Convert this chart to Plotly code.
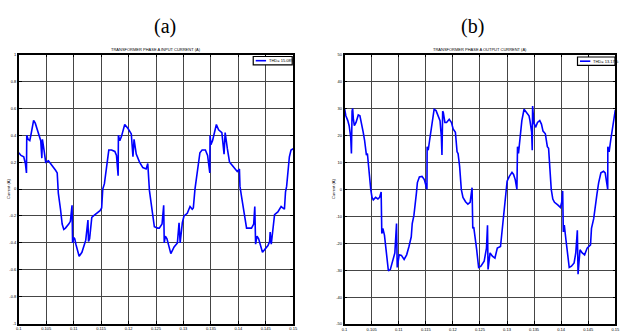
import plotly.graph_objects as go

W, H = 621, 332

# ---------------- data ----------------
t_a = [0.1000, 0.1004, 0.1009, 0.1012, 0.1014, 0.10145, 0.1017, 0.1020, 0.1022, 0.1027,
       0.1030, 0.1036, 0.1040, 0.1042, 0.1043, 0.1046, 0.1049, 0.1054, 0.1060, 0.1067,
       0.1070, 0.1071, 0.1072, 0.1076, 0.1079, 0.1082, 0.1085, 0.1091, 0.1094, 0.1097,
       0.1098, 0.1100, 0.1102, 0.1104, 0.1110, 0.1115, 0.1120, 0.1122, 0.1126, 0.1127,
       0.1129, 0.1133, 0.1136, 0.1144, 0.1148, 0.1151, 0.1153, 0.1156, 0.1160, 0.1164,
       0.1169, 0.1175, 0.1178, 0.1181, 0.11815, 0.1184, 0.1187, 0.1193, 0.1199, 0.1205,
       0.1208, 0.1210, 0.1214, 0.1220, 0.1226, 0.1232, 0.1235, 0.1237, 0.1238, 0.1241,
       0.1244, 0.1247, 0.1253, 0.1256, 0.1261, 0.1264, 0.1265, 0.1267, 0.1270, 0.1277,
       0.1283, 0.1289, 0.1292, 0.1294, 0.1298, 0.1301, 0.1307, 0.1312, 0.1316, 0.1318,
       0.1321, 0.1325, 0.1330, 0.1334, 0.1340, 0.1344, 0.1348, 0.13485, 0.1350, 0.1353,
       0.1358, 0.1360, 0.1364, 0.1370, 0.1374, 0.1376, 0.1380, 0.1384, 0.1388, 0.1394,
       0.1398, 0.1402, 0.1403, 0.1406, 0.1409, 0.1415, 0.1424, 0.1428, 0.1430, 0.14315,
       0.1434, 0.1437, 0.1444, 0.1450, 0.1454, 0.1457, 0.1458, 0.1460, 0.1463, 0.1466,
       0.1472, 0.1478, 0.1484, 0.1486, 0.1488, 0.1490, 0.1493, 0.1496, 0.1500]
i_a = [0.27, 0.25, 0.24, 0.19, 0.12, 0.40, 0.37, 0.36, 0.40, 0.51,
       0.49, 0.40, 0.36, 0.23, 0.37, 0.29, 0.20, 0.21, 0.18, 0.14,
       0.12, -0.02, -0.03, -0.15, -0.26, -0.30, -0.29, -0.26, -0.24, -0.12,
       -0.40, -0.36, -0.37, -0.41, -0.50, -0.47, -0.41, -0.38, -0.23, -0.39,
       -0.37, -0.21, -0.20, -0.17, -0.16, -0.14, 0.00, 0.04, 0.16, 0.29,
       0.29, 0.28, 0.25, 0.10, 0.40, 0.36, 0.39, 0.48, 0.45, 0.41,
       0.24, 0.37, 0.26, 0.20, 0.16, 0.15, 0.19, 0.00, -0.01, -0.10,
       -0.18, -0.28, -0.29, -0.29, -0.26, -0.12, -0.40, -0.35, -0.37, -0.48,
       -0.43, -0.40, -0.25, -0.40, -0.25, -0.20, -0.18, -0.13, -0.15, -0.14,
       0.00, 0.12, 0.27, 0.29, 0.29, 0.25, 0.12, 0.40, 0.33, 0.36,
       0.46, 0.48, 0.44, 0.42, 0.26, 0.42, 0.30, 0.20, 0.18, 0.15,
       0.13, 0.15, 0.02, -0.06, -0.15, -0.29, -0.29, -0.26, -0.13, -0.41,
       -0.35, -0.37, -0.47, -0.44, -0.42, -0.39, -0.32, -0.41, -0.28, -0.19,
       -0.17, -0.13, -0.15, -0.02, 0.02, 0.12, 0.24, 0.29, 0.30]

t_b = [0.1000, 0.10024, 0.1006, 0.10085, 0.10114, 0.10127, 0.10139, 0.1015, 0.10163, 0.10181,
       0.10212, 0.10254, 0.10284, 0.10313, 0.10344, 0.1037, 0.10404, 0.10422, 0.10447, 0.10484,
       0.10507, 0.10531, 0.10574, 0.10616, 0.10647, 0.10676, 0.10688, 0.10707, 0.10737, 0.10766,
       0.1081, 0.10846, 0.10888, 0.10929, 0.1096, 0.10973, 0.11009, 0.1105, 0.111, 0.11147,
       0.1119, 0.11232, 0.1125, 0.11281, 0.11328, 0.11345, 0.11382, 0.11431, 0.11473, 0.11509,
       0.11522, 0.11525, 0.11545, 0.11571, 0.11612, 0.11654, 0.1169, 0.11734, 0.11763, 0.11788,
       0.11799, 0.11812, 0.11824, 0.11853, 0.11884, 0.11933, 0.11975, 0.12005, 0.12047, 0.12078,
       0.12096, 0.12125, 0.12156, 0.12187, 0.12234, 0.12277, 0.12319, 0.12355, 0.12368, 0.12386,
       0.12415, 0.1244, 0.12476, 0.12518, 0.12578, 0.12621, 0.1264, 0.1265, 0.12687, 0.1273,
       0.12777, 0.12821, 0.1288, 0.12911, 0.1294, 0.12984, 0.13002, 0.13043, 0.13092, 0.13121,
       0.13152, 0.13183, 0.13194, 0.13212, 0.13243, 0.13274, 0.13315, 0.13364, 0.13406, 0.13424,
       0.13455, 0.13466, 0.13473, 0.13496, 0.13527, 0.13563, 0.13605, 0.13636, 0.13665, 0.13708,
       0.13745, 0.13768, 0.13786, 0.13817, 0.13846, 0.13877, 0.13937, 0.13986, 0.1401, 0.14028,
       0.1404, 0.14058, 0.14089, 0.14118, 0.14149, 0.1419, 0.14239, 0.1427, 0.14299, 0.14312,
       0.1433, 0.14348, 0.14389, 0.14433, 0.1448, 0.14542, 0.1456, 0.14601, 0.14661, 0.14692,
       0.14734, 0.14783, 0.14813, 0.14842, 0.1486, 0.14862, 0.14886, 0.14915, 0.14951, 0.14982,
       0.1500]
i_b = [30, 27.3, 25.5, 23.6, 19.4, 13.3, 29, 30, 26, 23.6,
       24.8, 27.6, 27.3, 24.8, 21.2, 18.2, 12.7, 13.3, 7.3, 0,
       -3, -3.9, -3, -3.6, -3, -1, -16.4, -14.5, -17, -21.8,
       -30.3, -29.7, -26.7, -23.6, -12.7, -29, -24.3, -24.5, -26, -24.3,
       -21.2, -17.6, -12.7, -9.7, -1.2, 2.5, 4.6, 4.8, 3.6, 1.2,
       0, 15.8, 14.5, 18.2, 24.8, 29.7, 29.2, 27.3, 25.5, 19.4,
       12.7, 29, 28.5, 24.8, 24.8, 26, 24.8, 22.4, 21.2, 13.9,
       13.3, 8.5, 0, -3, -4.6, -5.5, -4.8, 0.6, -14.5, -14,
       -17.6, -22.4, -29, -28.5, -26.7, -21.8, -13.3, -29.7, -23.6, -24.8,
       -25.5, -21.8, -21.2, -14.5, -9.7, -1.2, 3, 4.8, 6.3, 5.5,
       3.6, 0, 15.8, 13.3, 20.6, 25.5, 29.7, 28.5, 27.3, 25.5,
       21.2, 14.5, 30.9, 24.8, 23, 24.8, 25.5, 24.2, 21.6, 20.6,
       15.8, 15.2, 9.1, 0, -3.6, -4.8, -5.8, -6.7, -4.8, -0.6,
       -15.8, -13.3, -18.8, -23.6, -29, -28.5, -27.3, -23.6, -15.2, -31.5,
       -26.7, -22.4, -23.6, -24.3, -21.8, -20.6, -14.5, -10.9, -1.8, 2.4,
       6.1, 6.7, 6.1, 2.4, 0, 15.8, 13.9, 18.2, 23, 28.5,
       29.5]

x_tick_vals = [0.1, 0.105, 0.11, 0.115, 0.12, 0.125, 0.13, 0.135, 0.14, 0.145, 0.15]
x_tick_text = ["0.1", "0.105", "0.11", "0.115", "0.12", "0.125", "0.13", "0.135", "0.14", "0.145", "0.15"]
y_tick_vals_a = [1, 0.8, 0.6, 0.4, 0.2, 0, -0.2, -0.4, -0.6, -0.8, -1]
y_tick_text_a = ["1", "0.8", "0.6", "0.4", "0.2", "0", "-0.2", "-0.4", "-0.6", "-0.8", "-1"]
y_tick_vals_b = [50, 40, 30, 20, 10, 0, -10, -20, -30, -40, -50]
y_tick_text_b = ["50", "40", "30", "20", "10", "0", "-10", "-20", "-30", "-40", "-50"]

panel_labels = ["(a)", "(b)"]
panel_titles = ["TRANSFORMER PHASE A INPUT CURRENT (A)", "TRANSFORMER PHASE A OUTPUT CURRENT (A)"]
series_names = ["THD= 15.08%", "THD= 13.17%"]
y_title = "Current (A)"

# ---------------- layout helpers ----------------
def px(x):
    return x / W

def py(y):
    return 1 - y / H

LINE_BLUE = "#0000ff"
SANS = "Liberation Sans, Arial, sans-serif"
SERIF = "Liberation Serif, Times New Roman, serif"

panels = [
    dict(x0=16, x1=294, y0=52.5, y1=326.5, label_x=164, ytitle_x=5,
         leg=(253.5, 54.5, 293, 63)),
    dict(x0=346, x1=620.3, y0=52.5, y1=327, label_x=476, ytitle_x=335,
         leg=(582, 55, 620, 63.5)),
]

fig = go.Figure()
fig.add_trace(go.Scatter(x=t_a, y=i_a, mode="lines", name=series_names[0],
                         line=dict(color=LINE_BLUE, width=1.6), showlegend=False,
                         xaxis="x", yaxis="y"))
fig.add_trace(go.Scatter(x=t_b, y=i_b, mode="lines", name=series_names[1],
                         line=dict(color=LINE_BLUE, width=1.6), showlegend=False,
                         xaxis="x2", yaxis="y2"))

axis_common = dict(
    showline=True, linecolor="black", linewidth=1.5, mirror="ticks",
    ticks="inside", ticklen=3, tickcolor="black", tickwidth=1,
    showgrid=True, gridcolor="#454545", gridwidth=1, zeroline=False,
    tickfont=dict(family=SANS, size=4, color="black"),
    tickmode="array", fixedrange=True,
)

layout_axes = {}
y_ticks = [(y_tick_vals_a, y_tick_text_a, [-1, 1]), (y_tick_vals_b, y_tick_text_b, [-50, 50])]
for k, p in enumerate(panels):
    sfx = "" if k == 0 else str(k + 1)
    layout_axes["xaxis" + sfx] = dict(
        axis_common, domain=[px(p["x0"]), px(p["x1"])], range=[0.1, 0.15],
        tickvals=x_tick_vals, ticktext=x_tick_text, anchor="y" + sfx)
    yv, yt, yr = y_ticks[k]
    layout_axes["yaxis" + sfx] = dict(
        axis_common, domain=[py(p["y1"]), py(p["y0"])], range=yr,
        tickvals=yv, ticktext=yt, anchor="x" + sfx)

annotations = []
shapes = []
for k, p in enumerate(panels):
    cx = (p["x0"] + p["x1"]) / 2
    # panel label
    annotations.append(dict(text=panel_labels[k], x=px(p["label_x"]), y=py(24),
                            xref="paper", yref="paper", showarrow=False,
                            xanchor="center", yanchor="middle",
                            font=dict(family=SERIF, size=20, color="black")))
    # small title
    annotations.append(dict(text=panel_titles[k], x=px(cx), y=py(47),
                            xref="paper", yref="paper", showarrow=False,
                            xanchor="center", yanchor="middle",
                            font=dict(family=SANS, size=4, color="black")))
    # y-axis title
    annotations.append(dict(text=y_title, x=px(p["ytitle_x"]), y=py((p["y0"] + p["y1"]) / 2),
                            xref="paper", yref="paper", showarrow=False, textangle=-90,
                            xanchor="center", yanchor="middle",
                            font=dict(family=SANS, size=4, color="black")))
    # legend box
    lx0, ly0, lx1, ly1 = p["leg"]
    shapes.append(dict(type="rect", xref="paper", yref="paper",
                       x0=px(lx0), x1=px(lx1), y0=py(ly1), y1=py(ly0),
                       fillcolor="white", line=dict(color="black", width=1.2), layer="above"))
    ym = (ly0 + ly1) / 2
    shapes.append(dict(type="line", xref="paper", yref="paper",
                       x0=px(lx0 + 2.5), x1=px(lx0 + 13), y0=py(ym), y1=py(ym),
                       line=dict(color=LINE_BLUE, width=1.6), layer="above"))
    annotations.append(dict(text=series_names[k], x=px(lx0 + 14), y=py(ym),
                            xref="paper", yref="paper", showarrow=False,
                            xanchor="left", yanchor="middle",
                            font=dict(family=SANS, size=4, color="black")))

fig.update_layout(
    width=W, height=H, margin=dict(l=0, r=0, t=0, b=0),
    paper_bgcolor="white", plot_bgcolor="white",
    showlegend=False, annotations=annotations, shapes=shapes,
    **layout_axes,
)

fig.write_html("out.html", config={"displayModeBar": False},
               post_script="document.body.style.margin='0';document.body.style.padding='0';")
